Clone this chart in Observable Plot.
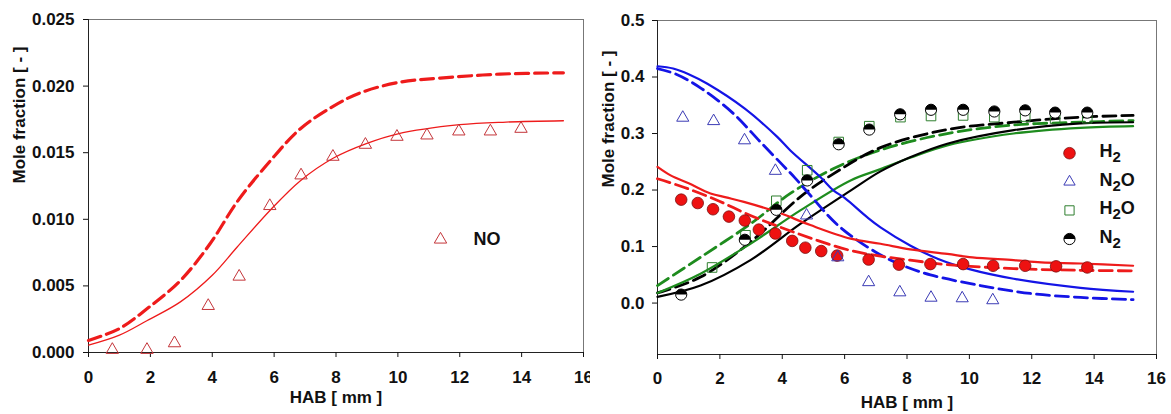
<!DOCTYPE html>
<html><head><meta charset="utf-8">
<script src="https://cdn.jsdelivr.net/npm/d3@7"></script>
<script src="https://cdn.jsdelivr.net/npm/@observablehq/plot@0.6"></script>
<style>
html,body{margin:0;padding:0;background:#fff;}
#wrap{display:flex;width:1171px;height:414px;overflow:hidden;}
</style></head><body><div id="wrap"></div>
<script>
// ---------- data: left panel (NO) ----------
const xTicks = [0, 2, 4, 6, 8, 10, 12, 14, 16];
const noYTicks = [0, 0.005, 0.010, 0.015, 0.020, 0.025];
const noExpX = [0.77, 1.89, 2.78, 3.87, 4.87, 5.86, 6.87, 7.9, 8.95, 9.97, 10.94, 11.97, 12.99, 13.98];
const noExpY = [0.0002, 0.0002, 0.0007, 0.0035, 0.0057, 0.0110, 0.0133, 0.0147, 0.0156, 0.0162, 0.0163, 0.0166, 0.0166, 0.0168];
const noSolidX = [0, 1, 1.9, 2.97, 4.0, 4.8, 5.88, 6.85, 7.92, 9.0, 9.97, 12.0, 13.5, 15.35];
const noSolidY = [0.00055, 0.0013, 0.0024, 0.0038, 0.0058, 0.0079, 0.0107, 0.0129, 0.0146, 0.0157, 0.0164, 0.0171, 0.0173, 0.0174];
const noDashX = [0, 1, 1.9, 2.97, 3.94, 4.8, 5.88, 6.85, 7.92, 8.79, 10.08, 11.37, 13.3, 15.35];
const noDashY = [0.0009, 0.0018, 0.0033, 0.0054, 0.0082, 0.0113, 0.0144, 0.0168, 0.0185, 0.0195, 0.0203, 0.0206, 0.0209, 0.0210];

// ---------- data: right panel ----------
const rYTicks = [0, 0.1, 0.2, 0.3, 0.4, 0.5];
const h2X = [0.76, 1.29, 1.78, 2.29, 2.8, 3.25, 3.78, 4.32, 4.74, 5.25, 5.76, 6.77, 7.74, 8.75, 9.8, 10.76, 11.79, 12.78, 13.78];
const h2Y = [0.183, 0.177, 0.166, 0.153, 0.146, 0.130, 0.123, 0.110, 0.098, 0.092, 0.084, 0.077, 0.068, 0.069, 0.069, 0.066, 0.066, 0.065, 0.063];
const n2oX = [0.81, 1.8, 2.79, 3.78, 4.78, 5.78, 6.77, 7.77, 8.77, 9.77, 10.75];
const n2oY = [0.328, 0.322, 0.288, 0.234, 0.155, 0.081, 0.037, 0.019, 0.0095, 0.0085, 0.005];
const h2oX = [1.75, 2.82, 3.81, 4.8, 5.81, 6.79, 7.79, 8.77, 9.8, 10.8, 11.79, 12.75, 13.78];
const h2oY = [0.063, 0.120, 0.181, 0.235, 0.285, 0.313, 0.329, 0.331, 0.332, 0.329, 0.330, 0.326, 0.327];
const n2X = [0.76, 2.8, 3.81, 4.8, 5.81, 6.79, 7.78, 8.77, 9.8, 10.8, 11.79, 12.75, 13.78];
const n2Y = [0.015, 0.112, 0.165, 0.217, 0.281, 0.307, 0.334, 0.342, 0.342, 0.339, 0.341, 0.337, 0.337];

// model curves
const n2oSolidX = [0, 0.5, 1.0, 1.6, 2.8, 3.84, 4.26, 5.22, 5.65, 6.0, 6.72, 7.15, 8.1, 9.0, 10.0, 11.42, 13.56, 15.25];
const n2oSolidY = [0.419, 0.415, 0.405, 0.388, 0.344, 0.294, 0.270, 0.223, 0.199, 0.186, 0.152, 0.134, 0.102, 0.078, 0.060, 0.043, 0.027, 0.020];
const n2oDashX = [0, 0.6, 1.4, 2.4, 3.3, 4.0, 4.4, 4.8, 5.8, 7.0, 7.8, 8.75, 10.35, 11.96, 13.56, 15.25];
const n2oDashY = [0.415, 0.405, 0.380, 0.337, 0.285, 0.245, 0.222, 0.197, 0.137, 0.090, 0.068, 0.050, 0.031, 0.017, 0.010, 0.006];
const h2SolidX = [0, 0.42, 1.0, 1.7, 2.2, 2.77, 3.84, 4.9, 6.19, 7.15, 8.1, 9.29, 10.1, 11.42, 12.3, 13.56, 15.25];
const h2SolidY = [0.241, 0.226, 0.212, 0.194, 0.187, 0.179, 0.161, 0.138, 0.114, 0.105, 0.095, 0.087, 0.081, 0.076, 0.072, 0.070, 0.066];
const h2DashX = [0, 0.84, 1.91, 2.98, 4.05, 5.12, 6.19, 7.15, 8.1, 9.29, 11.42, 13.56, 15.25];
const h2DashY = [0.220, 0.205, 0.182, 0.155, 0.132, 0.111, 0.093, 0.083, 0.076, 0.068, 0.061, 0.058, 0.057];
const h2oSolidX = [0, 1.38, 2.98, 4.58, 6.19, 7.15, 8.1, 9.29, 11.42, 13.56, 15.25];
const h2oSolidY = [0.018, 0.052, 0.105, 0.164, 0.217, 0.237, 0.257, 0.279, 0.300, 0.310, 0.313];
const h2oDashX = [0, 1.38, 2.98, 4.26, 5.65, 7.15, 9.29, 11.42, 13.56, 15.25];
const h2oDashY = [0.031, 0.081, 0.140, 0.194, 0.238, 0.271, 0.300, 0.315, 0.320, 0.323];
const n2SolidX = [0, 1.38, 2.98, 4.58, 6.19, 7.15, 8.1, 9.29, 11.42, 13.56, 15.25];
const n2SolidY = [0.011, 0.031, 0.076, 0.140, 0.199, 0.233, 0.258, 0.282, 0.306, 0.318, 0.320];
const n2DashX = [0, 1.38, 2.98, 4.58, 5.65, 7.15, 9.29, 11.42, 13.56, 15.25];
const n2DashY = [0.018, 0.046, 0.108, 0.188, 0.229, 0.275, 0.307, 0.320, 0.329, 0.332];

const legendNames = ["H2", "N2O", "H2O", "N2"];

// ---------- helpers ----------
const zip = (xs, ys) => xs.map((x, i) => ({x, y: ys[i]}));
const FONT = "'Liberation Sans', Arial, Helvetica, sans-serif";
const RED = "#ee1b1b", BLUE = "#1414e6", GREEN = "#1e8c1e", BLACK = "#000";
const NOCOL = "#c4353a", N2OCOL = "#3b3bb5", H2OCOL = "#2f7f2f";
const DASH = "13,6";
const CURVE = "catmull-rom";
const halfTop = {
  draw(ctx, size) {
    const r = Math.sqrt(size / Math.PI);
    ctx.moveTo(r, 0);
    ctx.arc(0, 0, r, 0, Math.PI, true);
    ctx.closePath();
  }
};
const baseStyle = {fontFamily: FONT, fontSize: "17px", fontWeight: "bold", color: "#111", background: "#fff", overflow: "visible"};

// ---------- left plot ----------
const left = Plot.plot({
  width: 590, height: 414,
  marginLeft: 88, marginRight: 7, marginTop: 19, marginBottom: 62,
  style: baseStyle,
  x: {domain: [0, 16]},
  y: {domain: [0, 0.025]},
  marks: [
    Plot.frame({stroke: "#777"}),
    Plot.ruleX([0], {stroke: "#222"}),
    Plot.ruleY([0], {stroke: "#222"}),
    Plot.axisX({ticks: xTicks, tickSize: 5, tickPadding: 13, tickFormat: d3.format("d"), label: null}),
    Plot.axisY({ticks: noYTicks, tickSize: 5, tickPadding: 9, tickFormat: d3.format(".3f"), label: null}),
    Plot.line(zip(noDashX, noDashY), {x: "x", y: "y", stroke: RED, strokeWidth: 3.2, strokeDasharray: DASH, curve: CURVE}),
    Plot.line(zip(noSolidX, noSolidY), {x: "x", y: "y", stroke: RED, strokeWidth: 1.3, curve: CURVE}),
    Plot.dot(zip(noExpX, noExpY), {x: "x", y: "y", symbol: "triangle", r: 4.6, stroke: NOCOL, fill: "none", strokeWidth: 1}),
    Plot.dot(["NO"], {frameAnchor: "top-right", dx: -143, dy: 220, symbol: "triangle", r: 4.6, stroke: NOCOL, fill: "none", strokeWidth: 1}),
    Plot.text(["NO"], {frameAnchor: "top-right", dx: -110, dy: 220, text: d => d, textAnchor: "start", lineAnchor: "middle", fontSize: 18}),
    Plot.text(["HAB [ mm ]"], {frameAnchor: "bottom", dy: 45, lineAnchor: "middle", text: d => d}),
    Plot.text(["Mole fraction [ - ]"], {frameAnchor: "left", dx: -68.5, dy: -2.5, rotate: -90, lineAnchor: "middle", text: d => d})
  ]
});

// ---------- right plot ----------
const legendDots = [
  {name: "H2", symbol: "circle", r: 5.8, fill: "#ee1111", stroke: "#7a1010", sw: 0.8},
  {name: "N2O", symbol: "triangle", r: 4.2, fill: "none", stroke: N2OCOL, sw: 1},
  {name: "H2O", symbol: "square", r: 5.2, fill: "none", stroke: H2OCOL, sw: 1},
  {name: "N2", symbol: "circle", r: 5.6, fill: "white", stroke: "black", sw: 1}
];
const legendMarks = [];
legendNames.forEach((name, i) => {
  const s = legendDots[i];
  const dy = 132.7 + i * 28.6;
  legendMarks.push(Plot.dot([name], {frameAnchor: "top-right", dx: -87, dy, symbol: s.symbol, r: s.r, fill: s.fill, stroke: s.stroke, strokeWidth: s.sw}));
  if (name === "N2") legendMarks.push(Plot.dot([name], {frameAnchor: "top-right", dx: -87, dy, symbol: halfTop, r: s.r, fill: "black"}));
  legendMarks.push(Plot.text([name], {frameAnchor: "top-right", dx: -57, dy: dy - 2, text: d => d, textAnchor: "start", lineAnchor: "middle", fontSize: 18}));
});

const right = Plot.plot({
  width: 581, height: 414,
  marginLeft: 67, marginRight: 15, marginTop: 20, marginBottom: 60,
  style: baseStyle,
  x: {domain: [0, 16]},
  y: {domain: [-0.091, 0.5]},
  marks: [
    Plot.frame({stroke: "#777"}),
    Plot.ruleX([0], {stroke: "#222"}),
    Plot.ruleY([-0.091], {stroke: "#222"}),
    Plot.axisX({ticks: xTicks, tickSize: 5, tickPadding: 12, tickFormat: d3.format("d"), label: null}),
    Plot.axisY({ticks: rYTicks, tickSize: 5, tickPadding: 8, tickFormat: d3.format(".1f"), label: null}),
    Plot.line(zip(h2oDashX, h2oDashY), {x: "x", y: "y", stroke: GREEN, strokeWidth: 2.8, strokeDasharray: DASH, curve: CURVE}),
    Plot.line(zip(n2DashX, n2DashY), {x: "x", y: "y", stroke: BLACK, strokeWidth: 2.8, strokeDasharray: DASH, curve: CURVE}),
    Plot.line(zip(h2oSolidX, h2oSolidY), {x: "x", y: "y", stroke: GREEN, strokeWidth: 2.2, curve: CURVE}),
    Plot.line(zip(n2SolidX, n2SolidY), {x: "x", y: "y", stroke: BLACK, strokeWidth: 2.2, curve: CURVE}),
    Plot.line(zip(n2oDashX, n2oDashY), {x: "x", y: "y", stroke: BLUE, strokeWidth: 2.8, strokeDasharray: DASH, curve: CURVE}),
    Plot.line(zip(n2oSolidX, n2oSolidY), {x: "x", y: "y", stroke: BLUE, strokeWidth: 2.2, curve: CURVE}),
    Plot.line(zip(h2DashX, h2DashY), {x: "x", y: "y", stroke: RED, strokeWidth: 2.8, strokeDasharray: DASH, curve: CURVE}),
    Plot.line(zip(h2SolidX, h2SolidY), {x: "x", y: "y", stroke: RED, strokeWidth: 2.2, curve: CURVE}),
    Plot.dot(zip(h2oX, h2oY), {x: "x", y: "y", symbol: "square", r: 5.4, stroke: H2OCOL, fill: "none", strokeWidth: 1}),
    Plot.dot(zip(n2X, n2Y), {x: "x", y: "y", symbol: "circle", r: 5.6, stroke: "black", fill: "white", strokeWidth: 1}),
    Plot.dot(zip(n2X, n2Y), {x: "x", y: "y", symbol: halfTop, r: 5.6, fill: "black"}),
    Plot.dot(zip(h2X, h2Y), {x: "x", y: "y", symbol: "circle", r: 5.8, fill: "#ee1111", stroke: "#7a1010", strokeWidth: 0.8}),
    Plot.dot(zip(n2oX, n2oY), {x: "x", y: "y", symbol: "triangle", r: 4.5, stroke: N2OCOL, fill: "none", strokeWidth: 1}),
    ...legendMarks,
    Plot.text(["HAB [ mm ]"], {frameAnchor: "bottom", dy: 48, lineAnchor: "middle", text: d => d}),
    Plot.text(["Mole fraction [ - ]"], {frameAnchor: "left", dx: -49, dy: 0, rotate: -90, lineAnchor: "middle", text: d => d})
  ]
});

// subscripts for chemical formulas in the legend
right.querySelectorAll("text").forEach(t => {
  const s = t.textContent;
  if (!legendNames.includes(s)) return;
  while (t.firstChild) t.removeChild(t.firstChild);
  const NS = "http://www.w3.org/2000/svg";
  const parts = s.split(/(2)/).filter(p => p.length);
  let lowered = false;
  parts.forEach(p => {
    const ts = document.createElementNS(NS, "tspan");
    ts.textContent = p;
    if (p === "2") { ts.setAttribute("font-size", "15"); ts.setAttribute("dy", "5"); lowered = true; }
    else if (lowered) { ts.setAttribute("dy", "-5"); lowered = false; }
    t.appendChild(ts);
  });
});

const wrap = document.getElementById("wrap");
wrap.appendChild(left);
wrap.appendChild(right);
</script>
</body></html>
